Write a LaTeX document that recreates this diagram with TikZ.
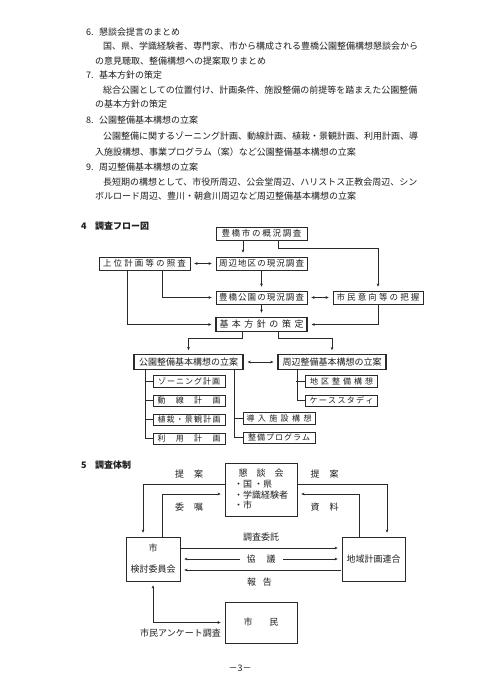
\documentclass[tikz,border=0pt]{standalone}
\usepackage{fontspec}
\setmainfont{Noto Sans CJK JP}
\usetikzlibrary{arrows.meta,positioning,calc}
\definecolor{Ink}{HTML}{1E1E1E}
\definecolor{Frame}{HTML}{2A2A2A}
\makeatletter
% spread the characters of #2 over the width #1
\newcommand\spr[2]{\hbox to #1{\let\sprsep\relax\@tfor\sprc:=#2\do{\sprsep\sprc\let\sprsep\hfill}}}
\makeatother
\newcommand\fsz[1]{\fontsize{#1}{#1}\selectfont}
\tikzset{
  box/.style={draw=Frame,line width=0.55pt,inner sep=0pt,minimum height=13pt,font=\fsz{8.5},text=Ink},
  mainbox/.style={box,line width=1.1pt,minimum height=14.5pt,font=\fsz{9}},
  subbox/.style={box,minimum height=11.5pt,minimum width=72pt,font=\fsz{8}},
  bigbox/.style={draw=Frame,line width=0.55pt,inner sep=0pt,font=\fsz{9},text=Ink},
  body/.style={anchor=west,inner sep=0pt,font=\fsz{9},text=Ink},
  lbl/.style={inner sep=0pt,font=\fsz{9},text=Ink},
  arr/.style={-{Stealth[length=3.2pt,width=2.6pt]},draw=Frame,line width=0.45pt,shorten >=4pt},
  biarr/.style={{Stealth[length=3.2pt,width=2.6pt]}-{Stealth[length=3.2pt,width=2.6pt]},draw=Frame,line width=0.45pt,shorten <=4pt,shorten >=4pt},
  tree/.style={draw=Frame,line width=0.45pt}
}
\begin{document}
\begin{tikzpicture}[x=1pt,y=-1pt]
  \fill[white] (0,0) rectangle (480,679);
  \useasboundingbox (0,0) rectangle (480,679);

  % items 6 to 9
  \node[body] (h6) at (86,32) {\makebox[13pt][l]{6.}懇談会提言のまとめ};
  \node[body] (t6a) at (103,46) {国、県、学識経験者、専門家、市から構成される豊橋公園整備構想懇談会から};
  \node[body] (t6b) at (95,61) {の意見聴取、整備構想への提案取りまとめ};
  \node[body] (h7) at (86,75) {\makebox[13pt][l]{7.}基本方針の策定};
  \node[body] (t7a) at (103,90) {総合公園としての位置付け、計画条件、施設整備の前提等を踏まえた公園整備};
  \node[body] (t7b) at (95,104) {の基本方針の策定};
  \node[body] (h8) at (86,120) {\makebox[13pt][l]{8.}公園整備基本構想の立案};
  \node[body] (t8a) at (103,136) {公園整備に関するゾーニング計画、動線計画、植栽・景観計画、利用計画、導};
  \node[body] (t8b) at (95,152) {入施設構想、事業プログラム（案）など公園整備基本構想の立案};
  \node[body] (h9) at (86,167) {\makebox[13pt][l]{9.}周辺整備基本構想の立案};
  \node[body] (t9a) at (103,182) {長短期の構想として、市役所周辺、公会堂周辺、ハリストス正教会周辺、シン};
  \node[body] (t9b) at (95,196) {ボルロード周辺、豊川・朝倉川周辺など周辺整備基本構想の立案};

  % 4 flow
  \node[body,font=\fsz{9}\bfseries] (s4) at (81,226) {\makebox[14pt][l]{4}調査フロー図};
  \node[box,minimum width=91pt] (A) at (261.5,233.5) {\spr{80pt}{豊橋市の概況調査}};
  \node[box,minimum width=91pt] (B) at (144.5,263.5) {\spr{83pt}{上位計画等の照査}};
  \node[box,minimum width=91pt] (C) at (261.5,263.5) {\spr{85pt}{周辺地区の現況調査}};
  \node[box,minimum width=91pt] (D) at (261.5,297.5) {\spr{85pt}{豊橋公園の現況調査}};
  \node[box,minimum width=90pt] (E) at (378,297.5) {\spr{83pt}{市民意向等の把握}};
  \node[mainbox,minimum width=91pt] (F) at (261.5,324.5) {\spr{84pt}{基本方針の策定}};
  \node[mainbox,minimum width=109pt] (G) at (188.5,362) {\spr{99pt}{公園整備基本構想の立案}};
  \node[mainbox,minimum width=108pt] (H) at (332,362) {\spr{99pt}{周辺整備基本構想の立案}};
  \node[subbox] (G1) at (189,381.5) {\spr{62pt}{ゾーニング計画}};
  \node[subbox,below=7pt of G1] (G2) {\spr{63pt}{動線計画}};
  \node[subbox,below=7pt of G2] (G3) {\spr{63pt}{植栽・景観計画}};
  \node[subbox,below=7pt of G3] (G4) {\spr{63pt}{利用計画}};
  \node[subbox] (G5) at (279,418.5) {\spr{65pt}{導入施設構想}};
  \node[subbox,below=7pt of G5] (G6) {\spr{62pt}{整備プログラム}};
  \node[subbox] (H1) at (341.5,381.5) {\spr{63pt}{地区整備構想}};
  \node[subbox,below=7pt of H1] (H2) {\spr{64pt}{ケーススタディ}};

  \draw[arr] ([xshift=-18.5pt]A.south) -- ([xshift=-18.5pt]C.north);
  \draw[arr] ([xshift=16.5pt]A.south) -- ++(0,8) -| (E.north);
  \draw[biarr] (B.east) -- (C.west);
  \draw[arr] ([xshift=17.5pt]B.south) |- (D.west);
  \draw[arr] ([xshift=-17.5pt]B.south) |- (F.west);
  \draw[arr] (C.south) -- (D.north);
  \draw[biarr] (D.east) -- (E.west);
  \draw[arr] (D.south) -- (F.north);
  \draw[arr] (E.south) |- (F.east);
  \draw[arr] ([xshift=-19.5pt]F.south) -- ++(0,6) -| (G.north);
  \draw[arr] ([xshift=16.5pt]F.south) -- ++(0,6) -| (H.north);
  \draw[biarr] (G.east) -- (H.west);
  % trees
  \draw[tree] ([xshift=-43.5pt]G.south) |- (G4.west);
  \foreach \n in {G1,G2,G3} \draw[tree] (\n.west) -- ++(-8,0);
  \draw[tree] ([xshift=45.5pt]G.south) |- (G6.west);
  \draw[tree] (G5.west) -- ++(-9,0);
  \draw[tree] ([xshift=-35pt]H.south) |- (H2.west);
  \draw[tree] (H1.west) -- ++(-9,0);

  % 5 organisation
  \node[body,font=\fsz{9}\bfseries] (s5) at (81,465) {\makebox[14pt][l]{5}調査体制};
  \node[bigbox,minimum width=72pt,minimum height=53pt,align=left,font=\fontsize{9}{10.7}\selectfont] (K) at (261,489.5)
    {\makebox[54pt]{\spr{45pt}{懇談会}}\\・国 ・県\\・学識経験者\\・市};
  \node[bigbox,minimum width=54pt,minimum height=44pt,align=center,font=\fontsize{9}{21}\selectfont] (M) at (153,559) {市\\検討委員会};
  \node[bigbox,minimum width=63pt,minimum height=44pt] (N) at (373.5,559) {地域計画連合};
  \node[bigbox,minimum width=72pt,minimum height=41pt] (P) at (261,622.5) {\spr{35pt}{市民}};

  \node[lbl] (l1) at (189,474) {\spr{28pt}{提案}};
  \node[lbl] (l2) at (324.5,474) {\spr{28pt}{提案}};
  \node[lbl] (l3) at (189,507) {\spr{28pt}{委嘱}};
  \node[lbl] (l4) at (324.5,507) {\spr{28pt}{資料}};
  \node[lbl] (l5) at (261,537) {調査委託};
  \node[lbl] (l7) at (259.5,582) {\spr{25pt}{報告}};
  \node[lbl,anchor=east] (l8) at (221,633) {市民アンケート調査};

  \draw[arr] ([yshift=5.5pt]K.west) -| ([xshift=-10pt]M.north);
  \draw[arr] ([xshift=9pt]M.north) |- ([yshift=-4.5pt]K.west);
  \draw[arr] ([yshift=5.5pt]K.east) -| ([xshift=13.5pt]N.north);
  \draw[arr] ([xshift=-14.5pt]N.north) |- ([yshift=-4.5pt]K.east);
  \draw[arr,shorten <=1pt] ([yshift=11pt]M.east) -- ([yshift=11pt]N.west);
  \draw[biarr] (M.east) -- node[lbl,fill=white,inner xsep=7pt] (l6) {\spr{29pt}{協議}} (N.west);
  \draw[arr,shorten <=1pt] ([yshift=-11pt]N.west) -- ([yshift=-11pt]M.east);
  \draw[biarr] (M.south) |- (P.west);

  \node[lbl] (pg) at (240,668) {－3－};
\end{tikzpicture}
\end{document}
